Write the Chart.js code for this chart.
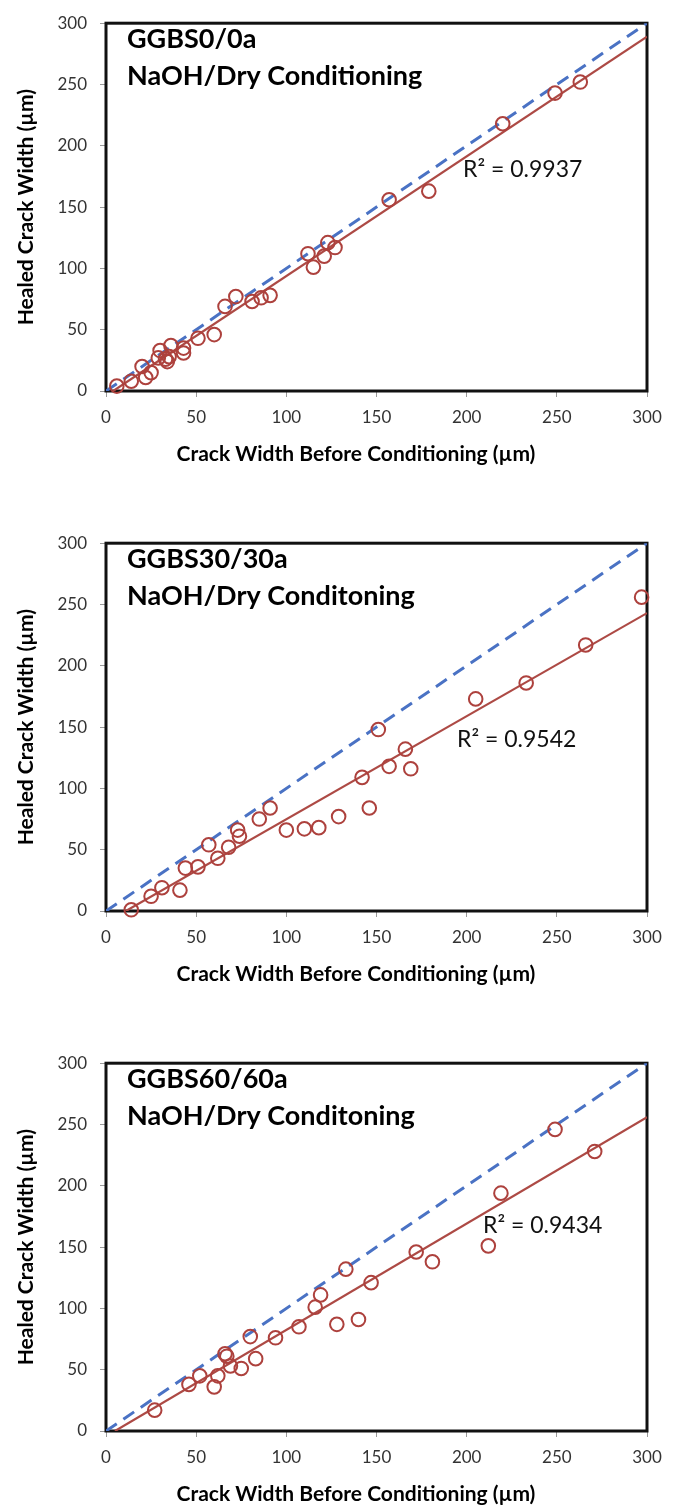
<!DOCTYPE html>
<html>
<head>
<meta charset="utf-8">
<title>Healed crack width vs crack width before conditioning</title>
<script src="https://cdn.jsdelivr.net/npm/chart.js@4.4.1/dist/chart.umd.min.js"></script>
<style>
    body { margin: 0; background: #fff; }
    .panel { position: absolute; left: 0; width: 678px; height: 468px; }
</style>
</head>
<body>
<div class="panel" style="top:0px"><canvas id="chart0" width="678" height="468"></canvas></div>
<div class="panel" style="top:520px"><canvas id="chart30" width="678" height="468"></canvas></div>
<div class="panel" style="top:1040px"><canvas id="chart60" width="678" height="468"></canvas></div>
<script>
// Axis ticks (both axes 0..300 step 50)
const tickValues = [0, 50, 100, 150, 200, 250, 300];

// GGBS0/0a - crack width before (x) and healed width (y), in µm
const ggbs0X = [6, 14, 20, 22, 25, 30, 29, 33, 35, 34, 36, 43, 43, 51, 60, 66, 72, 81, 86, 91, 112, 115, 121, 123, 127, 157, 179, 220, 249, 263];
const ggbs0Y = [4, 8, 20, 11, 15, 33, 27, 26, 28, 24, 37, 35, 31, 43, 46, 69, 77, 73, 76, 78, 112, 101, 110, 121, 117, 156, 163, 218, 243, 252];
const ggbs0TrendX = [4, 300];
const ggbs0TrendY = [0, 289];

// GGBS30/30a
const ggbs30X = [14, 25, 31, 41, 44, 51, 57, 62, 68, 73, 74, 85, 91, 100, 110, 118, 129, 142, 146, 151, 157, 166, 169, 205, 233, 266, 297];
const ggbs30Y = [1, 12, 19, 17, 35, 36, 54, 43, 52, 66, 61, 75, 84, 66, 67, 68, 77, 109, 84, 148, 118, 132, 116, 173, 186, 217, 256];
const ggbs30TrendX = [11, 300];
const ggbs30TrendY = [0, 243];

// GGBS60/60a
const ggbs60X = [27, 46, 52, 60, 62, 66, 67, 69, 75, 80, 83, 94, 107, 116, 119, 128, 133, 140, 147, 172, 181, 212, 219, 249, 271];
const ggbs60Y = [17, 38, 45, 36, 45, 63, 61, 53, 51, 77, 59, 76, 85, 101, 111, 87, 132, 91, 121, 146, 138, 151, 194, 246, 228];
const ggbs60TrendX = [5, 300];
const ggbs60TrendY = [0, 256];

// 1:1 reference line
const equalityX = [0, 300];
const equalityY = [0, 300];

const xTitle = 'Crack Width Before Conditioning (µm)';
const yTitle = 'Healed Crack Width (µm)';

const markerColor = '#ad413d';
const trendColor = '#ad4a45';
const equalityColor = '#4a72c4';

Chart.defaults.font.family = 'Lato, "Open Sans", sans-serif';

// zip two arrays into {x, y} points
function toPoints(xs, ys) {
    return xs.map((x, i) => ({ x: x, y: ys[i] }));
}

// Draws the black frame, the x axis title and the text inside the plot (title lines, R²)
const framePlugin = {
    id: 'frame',
    beforeDatasetsDraw(chart) {
        const { ctx, chartArea } = chart;
        ctx.save();
        ctx.strokeStyle = '#111';
        ctx.lineWidth = 3;
        ctx.strokeRect(chartArea.left, chartArea.top, chartArea.right - chartArea.left, chartArea.bottom - chartArea.top);
        ctx.restore();
    },
    afterDraw(chart, args, opts) {
        const { ctx } = chart;
        ctx.save();
        ctx.fillStyle = '#000';
        ctx.textBaseline = 'alphabetic';
        ctx.textAlign = 'left';
        ctx.font = 'bold 27px Lato, sans-serif';
        opts.title.forEach((line, i) => ctx.fillText(line, 127, 48 + i * 37));
        ctx.font = '23px Lato, sans-serif';
        ctx.fillStyle = '#111';
        ctx.fillText(opts.r2, opts.r2At[0], opts.r2At[1]);
        // x axis title sits a little left of the plot centre in the original
        ctx.font = 'bold 21px Lato, sans-serif';
        ctx.fillStyle = '#000';
        ctx.textAlign = 'center';
        ctx.textBaseline = 'middle';
        ctx.fillText(xTitle, 356, 454);
        ctx.restore();
    }
};

function createChart(canvasId, title, r2, r2At, xs, ys, trendX, trendY) {
    const ctx = document.getElementById(canvasId).getContext('2d');
    const axisTicks = {
        min: 0,
        max: 300,
        grid: { drawOnChartArea: false, drawTicks: true, tickLength: 6, color: '#999', tickColor: '#999' },
        border: { display: false },
        afterBuildTicks: (scale) => { scale.ticks = tickValues.map(v => ({ value: v })); }
    };
    return new Chart(ctx, {
        type: 'scatter',
        data: {
            datasets: [{
                label: 'Measured',
                data: toPoints(xs, ys),
                pointStyle: 'circle',
                pointRadius: 6.8,
                pointBorderWidth: 2,
                borderColor: markerColor,
                backgroundColor: 'rgba(0,0,0,0)',
                clip: false,
                order: 1
            }, {
                label: 'Linear fit',
                type: 'line',
                data: toPoints(trendX, trendY),
                borderColor: trendColor,
                borderWidth: 2.2,
                pointRadius: 0,
                fill: false,
                order: 2
            }, {
                label: '1:1',
                type: 'line',
                data: toPoints(equalityX, equalityY),
                borderColor: equalityColor,
                borderWidth: 3,
                borderDash: [13, 8],
                pointRadius: 0,
                fill: false,
                order: 3
            }]
        },
        options: {
            responsive: false,
            animation: false,
            layout: { padding: { top: 15, right: 31, left: 0, bottom: 0 } },
            plugins: {
                legend: { display: false },
                tooltip: { enabled: false },
                frame: { title: title, r2: r2, r2At: r2At }
            },
            scales: {
                x: Object.assign({}, axisTicks, {
                    type: 'linear',
                    position: 'bottom',
                    ticks: { color: '#333', font: { size: 17 }, padding: 10, maxRotation: 0 },
                    title: { display: false, text: xTitle },
                    afterFit: (scale) => { scale.height = 77; }
                }),
                y: Object.assign({}, axisTicks, {
                    type: 'linear',
                    position: 'left',
                    ticks: { color: '#333', font: { size: 17 }, padding: 13 },
                    title: { display: true, text: yTitle, color: '#000', font: { size: 21, weight: 'bold' }, padding: { top: 14, bottom: 0 } },
                    afterFit: (scale) => { scale.width = 106; }
                })
            }
        },
        plugins: [framePlugin]
    });
}

document.addEventListener('DOMContentLoaded', () => {
    createChart('chart0', ['GGBS0/0a', 'NaOH/Dry Conditioning'], 'R² = 0.9937', [463, 177],
        ggbs0X, ggbs0Y, ggbs0TrendX, ggbs0TrendY);
    createChart('chart30', ['GGBS30/30a', 'NaOH/Dry Conditoning'], 'R² = 0.9542', [457, 227],
        ggbs30X, ggbs30Y, ggbs30TrendX, ggbs30TrendY);
    createChart('chart60', ['GGBS60/60a', 'NaOH/Dry Conditoning'], 'R² = 0.9434', [483, 193],
        ggbs60X, ggbs60Y, ggbs60TrendX, ggbs60TrendY);
});
</script>
</body>
</html>
